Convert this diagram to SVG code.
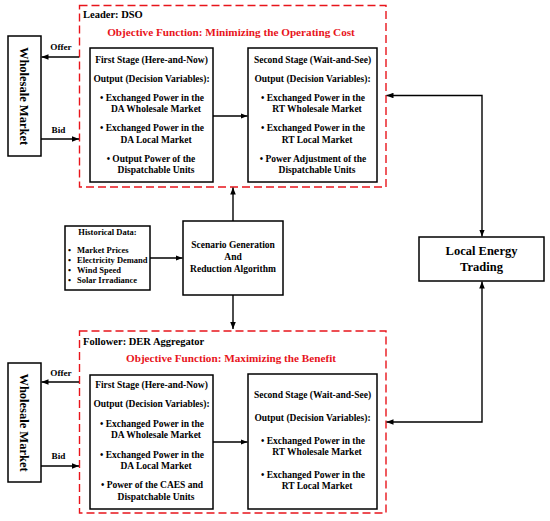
<svg xmlns="http://www.w3.org/2000/svg" width="550" height="521" viewBox="0 0 550 521">
<defs>
<style>
text{font-family:"Liberation Serif","Times New Roman",serif;font-weight:bold;fill:#000}
.box{fill:#fff;stroke:#000;stroke-width:1.5}
.grp{fill:none;stroke:#e8141b;stroke-width:1.4;stroke-dasharray:8,4}
.t{font-size:9.5px;text-anchor:middle}
.h{font-size:8.5px}
.obj{font-size:11.2px;fill:#e8141b;text-anchor:middle}
.lead{font-size:10.5px}
.big{font-size:12.5px;text-anchor:middle}
.lbl{font-size:9.2px;text-anchor:middle}
.c{fill:none;stroke:#000;stroke-width:1.4}
</style>
<marker id="ah" viewBox="0 0 10 8" refX="10" refY="4" markerWidth="7" markerHeight="5.6" orient="auto-start-reverse" markerUnits="userSpaceOnUse"><path d="M0,0 L10,4 L0,8 z" fill="#000"/></marker>
</defs>
<rect width="550" height="521" fill="#fff"/>

<g id="leader">
<rect class="grp" x="79.5" y="5.5" width="306.5" height="181.5"/>
<text class="lead" x="83" y="18">Leader: DSO</text>
<text class="obj" x="231" y="36">Objective Function: Minimizing the Operating Cost</text>
</g>
<g id="follower">
<rect class="grp" x="79.5" y="331" width="306.5" height="182"/>
<text class="lead" x="83" y="345">Follower: DER Aggregator</text>
<text class="obj" x="231" y="362">Objective Function: Maximizing the Benefit</text>
</g>

<g id="wholesale-top">
<rect class="box" x="8" y="36" width="33" height="120"/>
<text class="big" transform="translate(24.5,96) rotate(90)" y="4.5">Wholesale Market</text>
</g>
<g id="wholesale-bottom">
<rect class="box" x="8" y="363" width="33" height="119"/>
<text class="big" transform="translate(24.5,422.5) rotate(90)" y="4.5">Wholesale Market</text>
</g>

<g id="first-top">
<rect class="box" x="90" y="48" width="123" height="134"/>
<text class="t" x="151.5" y="63">First Stage (Here-and-Now)</text>
<text class="t" x="151.5" y="82">Output (Decision Variables):</text>
<text class="t" x="152" y="101">•  Exchanged Power in the</text>
<text class="t" x="156" y="112">DA Wholesale Market</text>
<text class="t" x="152" y="131">•  Exchanged Power in the</text>
<text class="t" x="156" y="143">DA Local Market</text>
<text class="t" x="151" y="162">•  Output Power of the</text>
<text class="t" x="156" y="173">Dispatchable Units</text>
</g>
<g id="second-top">
<rect class="box" x="248" y="48" width="129" height="134"/>
<text class="t" x="312.5" y="63">Second Stage (Wait-and-See)</text>
<text class="t" x="312.5" y="82">Output (Decision Variables):</text>
<text class="t" x="313" y="101">•  Exchanged Power in the</text>
<text class="t" x="317" y="112">RT Wholesale Market</text>
<text class="t" x="313" y="131">•  Exchanged Power in the</text>
<text class="t" x="317" y="143">RT Local Market</text>
<text class="t" x="313" y="162">•  Power Adjustment of the</text>
<text class="t" x="317" y="173">Dispatchable Units</text>
</g>

<g id="first-bottom">
<rect class="box" x="90" y="375" width="123" height="134"/>
<text class="t" x="151.5" y="388">First Stage (Here-and-Now)</text>
<text class="t" x="151.5" y="407">Output (Decision Variables):</text>
<text class="t" x="152" y="427">•  Exchanged Power in the</text>
<text class="t" x="156" y="438">DA Wholesale Market</text>
<text class="t" x="152" y="458">•  Exchanged Power in the</text>
<text class="t" x="156" y="469">DA Local Market</text>
<text class="t" x="152" y="488">•  Power of the CAES and</text>
<text class="t" x="156" y="500">Dispatchable Units</text>
</g>
<g id="second-bottom">
<rect class="box" x="248" y="374" width="129" height="135"/>
<text class="t" x="312.5" y="398">Second Stage (Wait-and-See)</text>
<text class="t" x="312.5" y="421">Output (Decision Variables):</text>
<text class="t" x="313" y="444">•  Exchanged Power in the</text>
<text class="t" x="317" y="455">RT Wholesale Market</text>
<text class="t" x="313" y="478">•  Exchanged Power in the</text>
<text class="t" x="317" y="489">RT Local Market</text>
</g>

<g id="historical">
<rect class="box" x="65" y="226" width="85" height="64"/>
<text class="h" x="107.5" y="235" text-anchor="middle">Historical Data:</text>
<text class="h" x="68" y="253">•</text><text class="h" x="77" y="253">Market Prices</text>
<text class="h" x="68" y="263">•</text><text class="h" x="77" y="263">Electricity Demand</text>
<text class="h" x="68" y="273">•</text><text class="h" x="77" y="273">Wind Speed</text>
<text class="h" x="68" y="283">•</text><text class="h" x="77" y="283">Solar Irradiance</text>
</g>

<g id="scenario">
<rect class="box" x="183" y="221" width="100" height="74"/>
<text class="t" x="233" y="248">Scenario Generation</text>
<text class="t" x="233" y="260">And</text>
<text class="t" x="233" y="272">Reduction Algorithm</text>
</g>

<g id="local">
<rect class="box" x="419" y="237" width="125" height="44"/>
<text class="big" x="481.5" y="255">Local Energy</text>
<text class="big" x="481.5" y="271">Trading</text>
</g>

<g id="connectors">
<line class="c" x1="79" y1="57" x2="41.5" y2="57" marker-end="url(#ah)"/>
<line class="c" x1="41" y1="139" x2="79" y2="139" marker-end="url(#ah)"/>
<text class="lbl" x="61" y="50">Offer</text>
<text class="lbl" x="58.5" y="133">Bid</text>
<line class="c" x1="79" y1="382" x2="41.5" y2="382" marker-end="url(#ah)"/>
<line class="c" x1="41" y1="466" x2="79" y2="466" marker-end="url(#ah)"/>
<text class="lbl" x="61" y="376">Offer</text>
<text class="lbl" x="58.5" y="459">Bid</text>
<line class="c" x1="213" y1="116" x2="247.5" y2="116" marker-end="url(#ah)"/>
<line class="c" x1="213" y1="442" x2="247.5" y2="442" marker-end="url(#ah)"/>
<line class="c" x1="150" y1="258" x2="182.5" y2="258" marker-end="url(#ah)"/>
<line class="c" x1="233" y1="221" x2="233" y2="187.5" marker-end="url(#ah)"/>
<line class="c" x1="233" y1="295" x2="233" y2="329" marker-end="url(#ah)"/>
<polyline class="c" points="386.5,95.5 482,95.5 482,236.5" marker-start="url(#ah)" marker-end="url(#ah)"/>
<polyline class="c" points="482,281.5 482,422 386.5,422" marker-start="url(#ah)" marker-end="url(#ah)"/>
</g>
</svg>
